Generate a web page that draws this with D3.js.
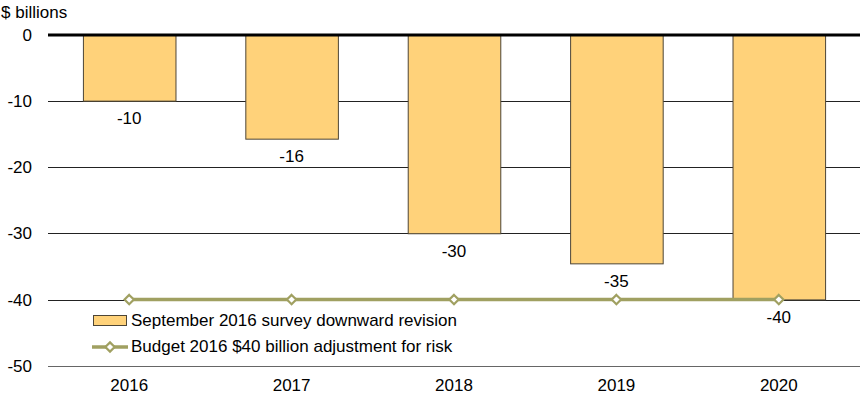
<!DOCTYPE html>
<html><head><meta charset="utf-8">
<script src="https://cdn.jsdelivr.net/npm/d3@7"></script>
<style>
body{margin:0;background:#fff;}
text{font-family:"Liberation Sans",Arial,sans-serif;fill:#000;}
</style></head>
<body>
<svg id="c" width="867" height="409"></svg>
<script>
const years = ["2016","2017","2018","2019","2020"];
const revision = [-10, -15.75, -30.05, -34.6, -40.05];
const revisionLabels = ["-10","-16","-30","-35","-40"];
const riskAdjustment = [-40, -40, -40, -40, -40];
const yTicks = [0, -10, -20, -30, -40, -50];
const legendLabels = ["September 2016 survey downward revision","Budget 2016 $40 billion adjustment for risk"];

(function(){
const svg = d3.select("#c");
const fs = "17px";
const mLeft = 48, mRight = 860, mTop = 35, mBottom = 365.7;
const x = d3.scaleBand().domain(years).range([mLeft, mRight]).paddingInner(0.43).paddingOuter(0.215);
const y = d3.scaleLinear().domain([0, -50]).range([mTop, mBottom]);

// gridlines
svg.append("g").selectAll("line").data(yTicks.filter(d => d !== 0)).join("line")
  .attr("x1", mLeft).attr("x2", mRight)
  .attr("y1", d => Math.round(y(d)) + 0.5).attr("y2", d => Math.round(y(d)) + 0.5)
  .attr("stroke", d => d === -50 ? "#666" : "#222").attr("stroke-width", 1);

// y labels
svg.append("g").selectAll("text").data(yTicks).join("text")
  .attr("x", 32).attr("y", d => y(d) + 6)
  .attr("text-anchor", "end").style("font-size", fs)
  .text(d => d);

svg.append("text").attr("x", 1).attr("y", 18).style("font-size", fs).text("$ billions");

// bars
svg.append("g").selectAll("rect").data(revision).join("rect")
  .attr("x", (d, i) => x(years[i]) + 0.5)
  .attr("y", y(0))
  .attr("width", x.bandwidth())
  .attr("height", d => y(d) - y(0))
  .attr("fill", "#FFD27A").attr("stroke", "#4d4536").attr("stroke-width", 1);

// zero line
svg.append("line").attr("x1", mLeft).attr("x2", mRight)
  .attr("y1", y(0)).attr("y2", y(0)).attr("stroke", "#000").attr("stroke-width", 3);

// bar labels
svg.append("g").selectAll("text").data(revision).join("text")
  .attr("x", (d, i) => x(years[i]) + x.bandwidth() / 2)
  .attr("y", d => y(d) + 23)
  .attr("text-anchor", "middle").style("font-size", fs)
  .text((d, i) => revisionLabels[i]);

// risk line
const lineColor = "#a0a061";
const line = d3.line().x((d, i) => x(years[i]) + x.bandwidth() / 2).y(d => y(d));
svg.append("path").datum(riskAdjustment).attr("d", line)
  .attr("fill", "none").attr("stroke", lineColor).attr("stroke-width", 3.5);
const diamond = d3.symbol().type(d3.symbolDiamond2).size(55);
svg.append("g").selectAll("path").data(riskAdjustment).join("path")
  .attr("transform", (d, i) => `translate(${x(years[i]) + x.bandwidth() / 2},${y(d)})`)
  .attr("d", diamond).attr("fill", "#fff").attr("stroke", lineColor).attr("stroke-width", 2.2);

// x labels
svg.append("g").selectAll("text").data(years).join("text")
  .attr("x", d => x(d) + x.bandwidth() / 2).attr("y", 391)
  .attr("text-anchor", "middle").style("font-size", fs).text(d => d);

// legend
const lg = svg.append("g");
lg.append("rect").attr("x", 93.5).attr("y", 315.5).attr("width", 33).attr("height", 10)
  .attr("fill", "#FFD27A").attr("stroke", "#4d4536").attr("stroke-width", 1);
lg.append("text").attr("x", 131).attr("y", 326).style("font-size", fs).text(legendLabels[0]);
lg.append("line").attr("x1", 92).attr("x2", 128).attr("y1", 347).attr("y2", 347)
  .attr("stroke", lineColor).attr("stroke-width", 3.5);
lg.append("path").attr("transform", "translate(110,347)").attr("d", diamond)
  .attr("fill", "#fff").attr("stroke", lineColor).attr("stroke-width", 2.2);
lg.append("text").attr("x", 131).attr("y", 352).style("font-size", fs).text(legendLabels[1]);
})();
</script>
</body></html>
